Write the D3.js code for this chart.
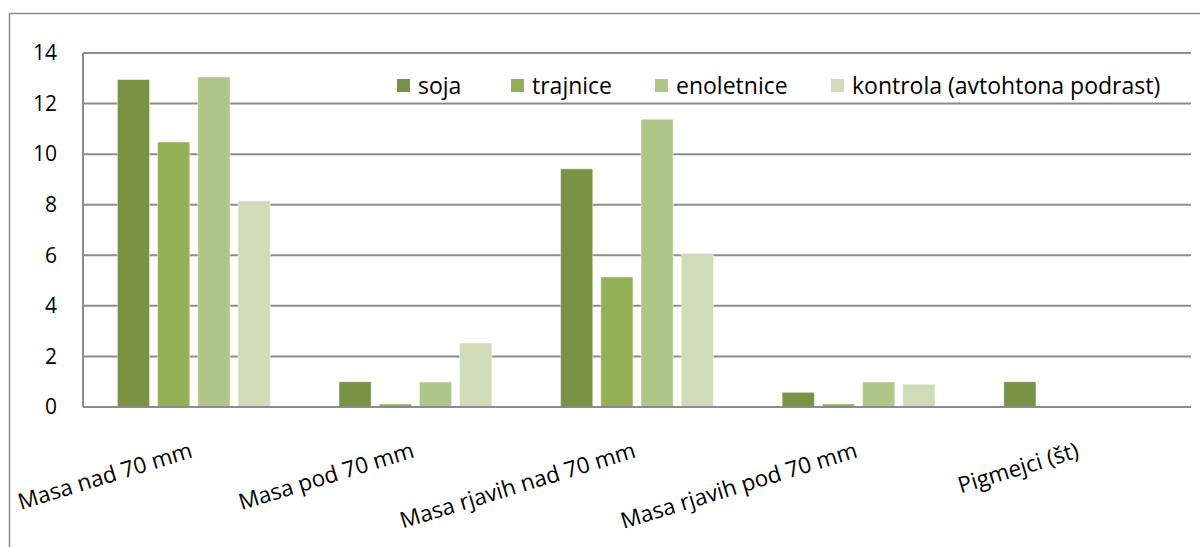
<!DOCTYPE html>
<html>
<head>
<meta charset="utf-8">
<script src="https://cdn.jsdelivr.net/npm/d3@7"></script>
<style>
  html, body { margin: 0; padding: 0; background: #fff; }
  svg { display: block; font-family: "Open Sans", "Noto Sans", sans-serif; }
</style>
</head>
<body>
<svg id="chart" width="1200" height="547"></svg>
<script>
// Categories and series values
const categories = ["Masa nad 70 mm", "Masa pod 70 mm", "Masa rjavih nad 70 mm", "Masa rjavih pod 70 mm", "Pigmejci (št)"];
const seriesNames = ["soja", "trajnice", "enoletnice", "kontrola (avtohtona podrast)"];
const soja       = [12.95, 1.0, 9.42, 0.58, 1.0];
const trajnice   = [10.48, 0.12, 5.14, 0.12, 0];
const enoletnice = [13.05, 0.99, 11.38, 0.99, 0];
const kontrola   = [8.15, 2.53, 6.08, 0.9, 0];
const yTicks = [0, 2, 4, 6, 8, 10, 12, 14];

const seriesValues = [soja, trajnice, enoletnice, kontrola];
const colors = ["#7a9244", "#93b057", "#afc786", "#cfdcb7"];

const svg = d3.select("#chart");
const plot = { left: 83, right: 1191, top: 53, bottom: 407 };

// Chart frame
svg.append("rect")
  .attr("x", 9.5).attr("y", 13.5)
  .attr("width", 1300).attr("height", 600)
  .attr("fill", "none").attr("stroke", "#8a8a8a").attr("stroke-width", 1.5);

const y = d3.scaleLinear().domain([0, 14]).range([plot.bottom, plot.top]);
const x0 = d3.scaleBand().domain(categories).range([plot.left, plot.right])
  .paddingInner(0.274).paddingOuter(0.137);
const x1 = d3.scaleBand().domain(seriesNames).range([0, x0.bandwidth()])
  .paddingInner(0.2).paddingOuter(0.1);

// Horizontal gridlines
svg.append("g").selectAll("line").data(yTicks).join("line")
  .attr("x1", plot.left).attr("x2", plot.right)
  .attr("y1", d => y(d)).attr("y2", d => y(d))
  .attr("stroke", "#8c8c8c").attr("stroke-width", 2);

// Y axis line
svg.append("line")
  .attr("x1", plot.left).attr("x2", plot.left)
  .attr("y1", y(14)).attr("y2", y(0))
  .attr("stroke", "#8c8c8c").attr("stroke-width", 2);

// Y tick labels
svg.append("g").selectAll("text").data(yTicks).join("text")
  .attr("x", 57).attr("y", d => y(d))
  .attr("dy", "0.35em")
  .attr("text-anchor", "end")
  .attr("font-size", 21).attr("fill", "#000")
  .text(d => d);

// Bars
const groups = svg.append("g").selectAll("g").data(categories).join("g")
  .attr("transform", d => `translate(${x0(d)},0)`);

groups.selectAll("rect")
  .data((c, i) => seriesNames.map((s, j) => ({ s, j, v: seriesValues[j][i] })))
  .join("rect")
  .filter(d => d.v > 0)
  .attr("x", d => x1(d.s))
  .attr("width", x1.bandwidth())
  .attr("y", d => y(d.v))
  .attr("height", d => y(0) - y(d.v))
  .attr("fill", d => colors[d.j])
  .attr("stroke", "rgba(255,255,255,0.45)")
  .attr("stroke-width", 1);

// Baseline drawn over bars
svg.append("line")
  .attr("x1", plot.left).attr("x2", plot.right)
  .attr("y1", y(0)).attr("y2", y(0))
  .attr("stroke", "#8c8c8c").attr("stroke-width", 2);

// Rotated category labels
svg.append("g").selectAll("text").data(categories).join("text")
  .attr("transform", d => `translate(${x0(d) + x0.bandwidth() / 2},457) rotate(-17)`)
  .attr("text-anchor", "end")
  .attr("font-size", 22.5).attr("fill", "#000")
  .text(d => d);

// Legend
const legendX = [397, 511, 655, 831];
const legend = svg.append("g").selectAll("g").data(seriesNames).join("g")
  .attr("transform", (d, i) => `translate(${legendX[i]},79)`);
legend.append("rect")
  .attr("width", 13).attr("height", 13)
  .attr("fill", (d, i) => colors[i]);
legend.append("text")
  .attr("x", 21).attr("y", 7).attr("dy", "0.35em")
  .attr("font-size", 23).attr("fill", "#000")
  .text(d => d);
</script>
</body>
</html>
